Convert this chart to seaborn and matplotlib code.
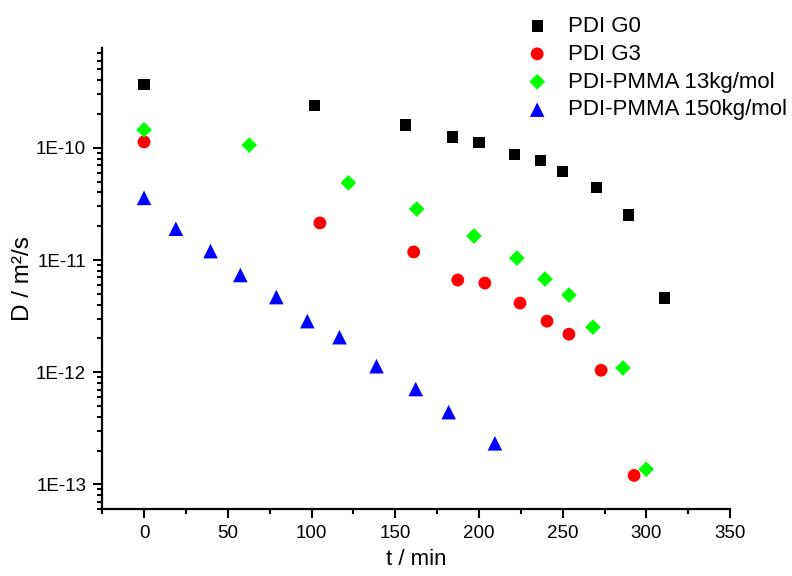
import numpy as np
import pandas as pd
import seaborn as sns
import matplotlib.pyplot as plt
from matplotlib.ticker import FixedLocator, LogLocator, NullFormatter, MultipleLocator

# PDI G0
t_g0 = [0, 101.7, 156, 184, 200, 221, 236.6, 249.6, 270, 289, 310.6]
d_g0 = [3.65e-10, 2.37e-10, 1.6e-10, 1.25e-10, 1.11e-10, 8.7e-11, 7.65e-11, 6.1e-11, 4.4e-11, 2.52e-11, 4.58e-12]

# PDI G3
t_g3 = [0, 105, 161, 187.3, 203.5, 224.5, 240.6, 253.7, 272.9, 292.6]
d_g3 = [1.13e-10, 2.14e-11, 1.18e-11, 6.63e-12, 6.23e-12, 4.13e-12, 2.85e-12, 2.18e-12, 1.04e-12, 1.2e-13]

# PDI-PMMA 13kg/mol
t_13 = [0, 62.8, 122, 162.8, 197, 222.6, 239.4, 253.7, 268, 286, 299.8]
d_13 = [1.45e-10, 1.06e-10, 4.87e-11, 2.85e-11, 1.64e-11, 1.04e-11, 6.77e-12, 4.87e-12, 2.52e-12, 1.09e-12, 1.36e-13]

# PDI-PMMA 150kg/mol
t_150 = [0, 19, 39.7, 57.5, 79, 97.5, 116.7, 138.8, 162.2, 181.9, 209.5]
d_150 = [3.58e-11, 1.9e-11, 1.2e-11, 7.35e-12, 4.67e-12, 2.85e-12, 2.05e-12, 1.13e-12, 7.07e-13, 4.4e-13, 2.32e-13]

names = ["PDI G0", "PDI G3", "PDI-PMMA 13kg/mol", "PDI-PMMA 150kg/mol"]
ts = [t_g0, t_g3, t_13, t_150]
ds = [d_g0, d_g3, d_13, d_150]

rows = []
for n, t, d in zip(names, ts, ds):
    for a, b in zip(t, d):
        rows.append([a, b, n])
df = pd.DataFrame(rows, columns=["t", "D", "sample"])

sns.set_style("ticks")
plt.rcParams["font.family"] = ["Liberation Sans", "DejaVu Sans"]
plt.rcParams["text.color"] = "black"
plt.rcParams["axes.labelcolor"] = "black"
plt.rcParams["axes.edgecolor"] = "black"

fig = plt.figure(figsize=(7.92, 5.76), dpi=100)
ax = fig.add_axes([0.129, 0.116, 0.793, 0.801])

colors = {names[0]: "#000000", names[1]: "#ff0000", names[2]: "#00ff00", names[3]: "#0000ff"}
markers = {names[0]: "s", names[1]: "o", names[2]: "D", names[3]: "^"}
sizes = {names[0]: 64, names[1]: 85, names[2]: 64, names[3]: 110}

for n in names:
    sub = df[df["sample"] == n]
    sns.scatterplot(data=sub, x="t", y="D", color=colors[n], marker=markers[n],
                    s=sizes[n], edgecolor="none", label=n, ax=ax)

ax.set_yscale("log")
ax.set_xlim(-25, 350)
ax.set_ylim(6e-14, 7.8e-10)
ax.xaxis.set_major_locator(MultipleLocator(50))
ax.xaxis.set_minor_locator(MultipleLocator(25))
ax.yaxis.set_major_locator(FixedLocator([1e-13, 1e-12, 1e-11, 1e-10]))
ax.yaxis.set_minor_locator(LogLocator(base=10, subs=np.arange(2, 10)))
ax.yaxis.set_minor_formatter(NullFormatter())
ax.set_yticklabels(["1E-13", "1E-12", "1E-11", "1E-10"])

sns.despine(ax=ax)
for s in ["left", "bottom"]:
    ax.spines[s].set_linewidth(1.6)
ax.tick_params(axis="both", which="major", direction="out", length=6.5, width=1.5,
               labelsize=13.5, colors="black", pad=5)
ax.tick_params(axis="both", which="minor", direction="out", length=3.6, width=1.5, colors="black")

ax.set_xlabel("t / min", fontsize=16, labelpad=5)
ax.set_ylabel("D / m²/s", fontsize=17.5, labelpad=1.5)

leg = ax.legend(loc="upper left", bbox_to_anchor=(0.653, 0.988), bbox_transform=fig.transFigure,
                frameon=False, fontsize=16, handlelength=1.0, handletextpad=0.9,
                labelspacing=0.31, borderaxespad=0)

fig.savefig("out.png", dpi=100)
